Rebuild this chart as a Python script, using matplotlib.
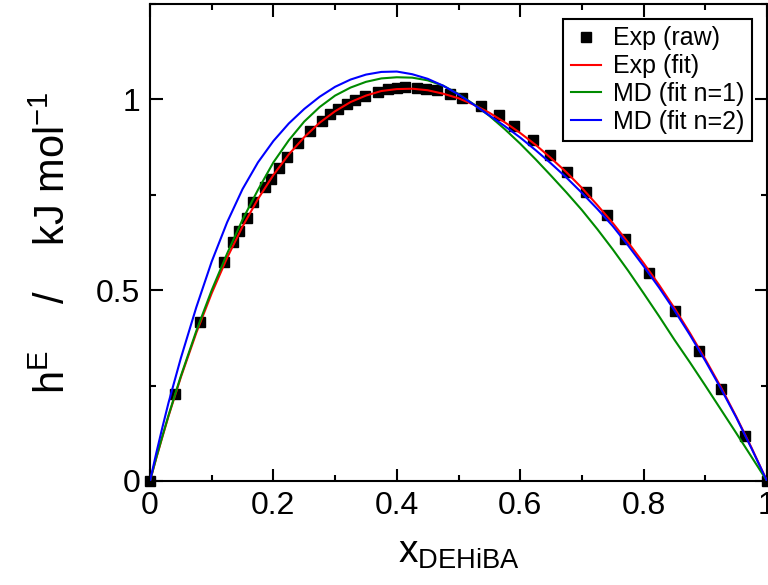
import matplotlib.pyplot as plt
from matplotlib.ticker import MultipleLocator

plt.rcParams['font.family'] = ['Liberation Sans', 'DejaVu Sans']
plt.rcParams['mathtext.default'] = 'regular'

# experimental points (raw)
x_raw = [0.0, 0.0405, 0.081, 0.120, 0.135, 0.145, 0.157, 0.167, 0.186, 0.196,
         0.209, 0.222, 0.240, 0.259, 0.278, 0.292, 0.305, 0.319, 0.332, 0.348,
         0.370, 0.386, 0.400, 0.414, 0.432, 0.448, 0.465, 0.486, 0.505, 0.536,
         0.566, 0.590, 0.620, 0.648, 0.676, 0.707, 0.740, 0.770, 0.809, 0.851,
         0.890, 0.925, 0.964, 1.0]
h_raw = [0.0, 0.228, 0.416, 0.573, 0.626, 0.656, 0.690, 0.730, 0.770, 0.792,
         0.820, 0.849, 0.886, 0.916, 0.943, 0.961, 0.976, 0.989, 0.999, 1.010,
         1.019, 1.026, 1.030, 1.032, 1.031, 1.028, 1.024, 1.015, 1.004, 0.982,
         0.958, 0.929, 0.893, 0.853, 0.810, 0.757, 0.696, 0.635, 0.544, 0.446,
         0.341, 0.241, 0.119, 0.0]

# curves
x_fit = [0.0, 0.01, 0.02, 0.03, 0.05, 0.075, 0.1, 0.125, 0.15, 0.175, 0.2,
         0.225, 0.25, 0.275, 0.3, 0.325, 0.35, 0.375, 0.4, 0.425, 0.45, 0.475,
         0.5, 0.525, 0.55, 0.575, 0.6, 0.625, 0.65, 0.675, 0.7, 0.725, 0.75,
         0.775, 0.8, 0.825, 0.85, 0.875, 0.9, 0.925, 0.95, 0.975, 1.0]
h_exp_fit = [0.0, 0.059, 0.115, 0.170, 0.272, 0.388, 0.492, 0.585, 0.667, 0.739,
             0.802, 0.856, 0.901, 0.939, 0.969, 0.993, 1.010, 1.022, 1.027,
             1.028, 1.024, 1.015, 1.003, 0.986, 0.965, 0.940, 0.912, 0.881,
             0.846, 0.809, 0.768, 0.723, 0.676, 0.625, 0.571, 0.514, 0.453,
             0.388, 0.319, 0.247, 0.169, 0.087, 0.0]
h_md1 = [0.0, 0.060, 0.117, 0.172, 0.275, 0.393, 0.500, 0.596, 0.685, 0.763,
         0.835, 0.893, 0.942, 0.980, 1.010, 1.031, 1.046, 1.055, 1.058, 1.057,
         1.050, 1.036, 1.014, 0.987, 0.957, 0.922, 0.884, 0.843, 0.800, 0.756,
         0.710, 0.660, 0.607, 0.551, 0.492, 0.432, 0.370, 0.311, 0.250, 0.188,
         0.126, 0.063, 0.0]
h_md2 = [0.0, 0.072, 0.140, 0.205, 0.322, 0.455, 0.575, 0.678, 0.765, 0.835,
         0.891, 0.937, 0.975, 1.007, 1.033, 1.052, 1.065, 1.072, 1.073, 1.066,
         1.054, 1.036, 1.013, 0.986, 0.958, 0.930, 0.900, 0.867, 0.832, 0.795,
         0.755, 0.713, 0.668, 0.617, 0.563, 0.507, 0.447, 0.383, 0.315, 0.243,
         0.167, 0.085, 0.0]

fig = plt.figure(figsize=(7.68, 5.85), dpi=100)
ax = fig.add_axes([150 / 768, 104 / 585, 617 / 768, 477 / 585])

ax.plot(x_raw, h_raw, 's', color='black', markersize=6.5, clip_on=False,
        zorder=2, label='Exp (raw)')
ax.plot(x_fit, h_exp_fit, color='red', lw=1.5, zorder=3, label='Exp (fit)')
ax.plot(x_fit, h_md1, color='#008b00', lw=1.5, zorder=3, label='MD (fit n=1)')
ax.plot(x_fit, h_md2, color='blue', lw=1.5, zorder=3, label='MD (fit n=2)')

ax.set_xlim(0, 1)
ax.set_ylim(0, 1.25)
ax.set_xticks([0, 0.2, 0.4, 0.6, 0.8, 1.0])
ax.set_xticklabels(['0', '0.2', '0.4', '0.6', '0.8', '1'])
ax.set_yticks([0, 0.5, 1.0])
ax.set_yticklabels(['0', '0.5', '1'])
ax.xaxis.set_minor_locator(MultipleLocator(0.1))
ax.yaxis.set_minor_locator(MultipleLocator(0.25))
ax.tick_params(which='both', direction='in', top=True, right=True,
               width=1.5, labelsize=23)
ax.tick_params(which='major', length=9, pad=7)
ax.tick_params(which='minor', length=4.5)
for s in ax.spines.values():
    s.set_linewidth(1.5)

ax.set_xlabel(r'x$_{DEHiBA}$', fontsize=28, labelpad=10)
ax.set_ylabel(r'h$^{E}$    /    kJ mol$^{-1}$', fontsize=30, labelpad=16)

leg = ax.legend(loc='upper right', fontsize=18, frameon=True, fancybox=False,
                edgecolor='black', framealpha=1, handlelength=1.2,
                handletextpad=0.5, labelspacing=0.15, borderpad=0.3,
                borderaxespad=0.6)
leg.get_frame().set_linewidth(1.5)

fig.savefig('out.png', dpi=100)
